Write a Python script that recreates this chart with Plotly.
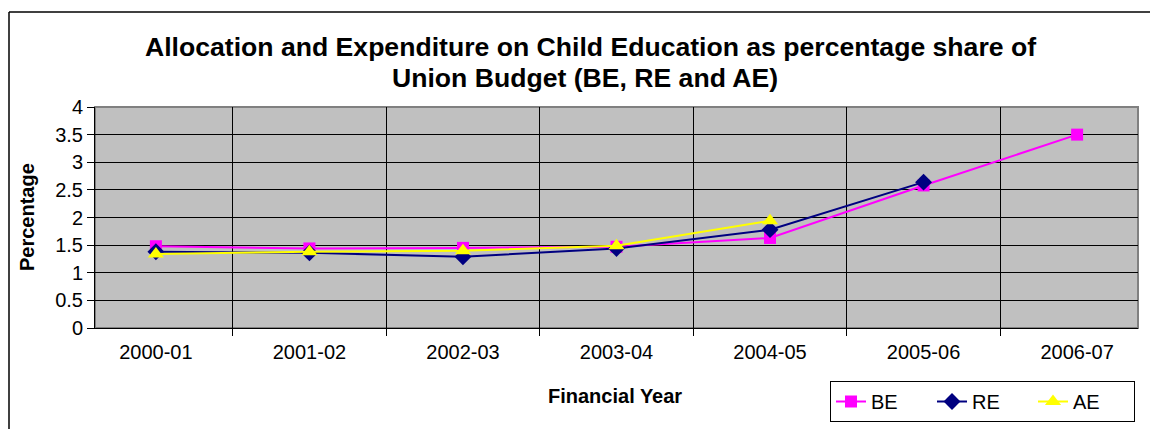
import plotly.graph_objects as go

years = ["2000-01", "2001-02", "2002-03", "2003-04", "2004-05", "2005-06", "2006-07"]
be = [1.48, 1.44, 1.45, 1.47, 1.63, 2.58, 3.50]
re_vals = [1.38, 1.36, 1.29, 1.44, 1.78, 2.64, None]
ae = [1.34, 1.38, 1.40, 1.49, 1.94, None, None]

W, H = 1158, 429
OFF = 8  # page body margin shifts the figure by this much
L, T = 95 - OFF, 107 - OFF
pw, ph = 1043, 221
R, B = W - L - pw, H - T - ph


def px_x(x):
    return (x - OFF - L) / pw


def px_y(y):
    return (T + ph - (y - OFF)) / ph


fig = go.Figure()
fig.add_trace(go.Scatter(x=years, y=be, name="BE", mode="lines+markers",
                         line=dict(color="#FF00FF", width=2),
                         marker=dict(symbol="square", size=12, color="#FF00FF")))
fig.add_trace(go.Scatter(x=years, y=re_vals, name="RE", mode="lines+markers",
                         line=dict(color="#000080", width=2),
                         marker=dict(symbol="diamond", size=13, color="#000080")))
fig.add_trace(go.Scatter(x=years, y=ae, name="AE", mode="lines+markers",
                         line=dict(color="#FFFF00", width=2),
                         marker=dict(symbol="triangle-up", size=14, color="#FFFF00")))

fig.update_layout(
    width=W, height=H,
    margin=dict(l=L, r=R, t=T, b=B, autoexpand=False),
    paper_bgcolor="white",
    plot_bgcolor="#C0C0C0",
    font=dict(family="Arial, Liberation Sans, sans-serif", size=20, color="black"),
    showlegend=True,
    legend=dict(orientation="h", x=px_x(1135), xanchor="right",
                y=px_y(381), yanchor="top",
                bordercolor="black", borderwidth=1, bgcolor="white",
                font=dict(size=20), itemwidth=30, tracegroupgap=0,
                entrywidth=56, entrywidthmode="pixels"),
)

fig.update_xaxes(
    type="category", tickson="boundaries", automargin=False,
    showgrid=True, gridcolor="black", gridwidth=1,
    showline=True, linecolor="black", linewidth=1,
    ticks="outside", ticklen=7, tickcolor="black",
    ticklabelstandoff=6,
)
fig.update_yaxes(
    range=[0, 4], dtick=0.5, automargin=False,
    showgrid=True, gridcolor="black", gridwidth=1,
    showline=True, linecolor="black", linewidth=1,
    ticks="outside", ticklen=7, tickcolor="black",
    zeroline=False,
)

# title and axis titles
fig.add_annotation(text="<b>Allocation and Expenditure on Child Education as percentage share of</b>",
                   xref="paper", yref="paper", x=px_x(590), y=px_y(47),
                   showarrow=False, font=dict(size=26.6), xanchor="center", yanchor="middle")
fig.add_annotation(text="<b>Union Budget (BE, RE and AE)</b>",
                   xref="paper", yref="paper", x=px_x(585), y=px_y(78),
                   showarrow=False, font=dict(size=26.6), xanchor="center", yanchor="middle")
fig.add_annotation(text="<b>Percentage</b>", textangle=-90,
                   xref="paper", yref="paper", x=px_x(27), y=px_y(217),
                   showarrow=False, font=dict(size=20), xanchor="center", yanchor="middle")
fig.add_annotation(text="<b>Financial Year</b>",
                   xref="paper", yref="paper", x=px_x(615), y=px_y(396),
                   showarrow=False, font=dict(size=20), xanchor="center", yanchor="middle")

# plot area border (grey) and outer chart frame
fig.add_shape(type="rect", xref="paper", yref="paper", x0=0, x1=1, y0=0, y1=1,
              line=dict(color="#808080", width=2), layer="below")
fig.add_shape(type="line", xref="paper", yref="paper",
              x0=px_x(9), x1=px_x(9), y0=px_y(12), y1=px_y(445),
              line=dict(color="black", width=1.5))
fig.add_shape(type="line", xref="paper", yref="paper",
              x0=px_x(9), x1=px_x(1175), y0=px_y(12), y1=px_y(12),
              line=dict(color="black", width=1.5))

fig.write_html("out.html")
